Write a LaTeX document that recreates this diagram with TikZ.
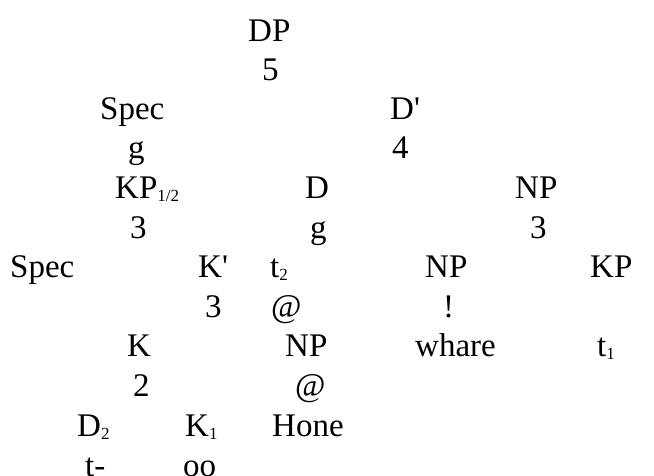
\documentclass[tikz,border=0pt]{standalone}
\usepackage{fontspec}
\setmainfont{Liberation Serif}
\newcommand{\lowsub}[1]{\raisebox{-3pt}{\fontsize{17}{17}\selectfont #1}}
\begin{document}
\begin{tikzpicture}[x=1pt,y=-1pt,
  lbl/.style={inner sep=0pt, anchor=base west, font=\fontsize{33}{36}\selectfont}]
\useasboundingbox (0,0) rectangle (654,475);
% row 0
\node[lbl] (dp) at (248,41) {DP};
% row 1
\node[lbl] (b1) at (262,80) {5};
% row 2
\node[lbl] (spec1) at (100,119) {Spec};
\node[lbl] (dbar) at (390,119) {D\textquotesingle};
% row 3
\node[lbl] (b2) at (128,158) {g};
\node[lbl] (b3) at (392,158) {4};
% row 4
\node[lbl] (kp12) at (115,198) {KP\lowsub{1/2}};
\node[lbl] (d) at (305,198) {D};
\node[lbl] (np1) at (515,198) {NP};
% row 5
\node[lbl] (b4) at (130,238) {3};
\node[lbl] (b5) at (310,238) {g};
\node[lbl] (b6) at (530,238) {3};
% row 6
\node[lbl] (spec2) at (10,277) {Spec};
\node[lbl] (kbar) at (198,277) {K\textquotesingle};
\node[lbl] (t2) at (270,277) {t\lowsub{2}};
\node[lbl] (np2) at (425,277) {NP};
\node[lbl] (kp) at (590,277) {KP};
% row 7
\node[lbl] (b7) at (205,317) {3};
\node[lbl] (b8) at (271,317) {@};
\node[lbl] (b9) at (443,317) {!};
% row 8
\node[lbl] (k) at (127,356) {K};
\node[lbl] (np3) at (285,356) {NP};
\node[lbl] (whare) at (415,356) {whare};
\node[lbl] (t1) at (597,356) {t\lowsub{1}};
% row 9
\node[lbl] (b10) at (133,396) {2};
\node[lbl] (b11) at (295,396) {@};
% row 10
\node[lbl] (d2) at (77,436) {D\lowsub{2}};
\node[lbl] (k1) at (185,436) {K\lowsub{1}};
\node[lbl] (hone) at (272,436) {Hone};
% row 11
\node[lbl] (tdash) at (85,476) {t-};
\node[lbl] (oo) at (183,476) {oo};
\end{tikzpicture}
\end{document}
